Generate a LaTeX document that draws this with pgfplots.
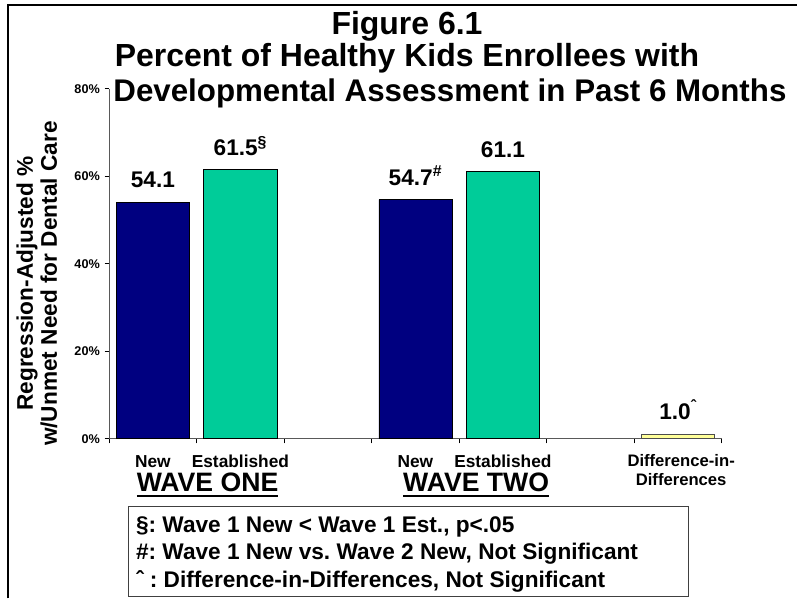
\documentclass[border=0pt]{standalone}
\usepackage{pgfplots}
\pgfplotsset{compat=1.18}
\usepackage{fontspec}
\setmainfont{Liberation Sans}
\definecolor{navybar}{RGB}{0,0,128}
\definecolor{tealbar}{RGB}{0,204,153}
\definecolor{yellowbar}{RGB}{255,255,153}
\newcommand{\fs}[1]{\fontsize{#1}{#1}\selectfont\bfseries}
\newsavebox\ulbox
\newcommand{\ulin}[1]{\sbox\ulbox{#1}\rlap{\usebox\ulbox}\rule[-4.2pt]{\wd\ulbox}{1.5pt}}
\frenchspacing
\begin{document}
\begin{tikzpicture}
% pixel frame: origin of axis at pixel (109.3,439.3), 1px = 0.75pt
\begin{scope}[shift={(-81.975pt,329.475pt)}, x=0.75pt, y=-0.75pt]
  \path (0,0) rectangle (798,599);
  \draw[line width=1.5pt] (8,599) -- (8,5) -- (798,5);
  % title
  \node[anchor=base, inner sep=0] at (407.5,35) {\fs{24}Figure 6.1};
  \node[anchor=base, inner sep=0] at (407.5,67) {\fs{24}Percent of Healthy Kids Enrollees with};
  \node[anchor=base west, inner sep=0] at (113.3,102) {\fs{23.5}Developmental Assessment in Past 6 Months};
  % y label
  \node[rotate=90, align=center, inner sep=0, font={\fontsize{17}{18}\selectfont\bfseries}] at (37,284) {Regression-Adjusted \%\\w/Unmet Need for Dental Care};
  % category labels
  \node[anchor=base, inner sep=0] at (153.1,467.7) {\fs{13}New};
  \node[anchor=base, inner sep=0] at (240.7,467.7) {\fs{13}Established};
  \node[anchor=base, inner sep=0] at (415.9,467.7) {\fs{13}New};
  \node[anchor=base, inner sep=0] at (503.5,467.7) {\fs{13}Established};
  \node[anchor=base, inner sep=0] at (682,467.3) {\fs{12.5}Difference-in-};
  \node[anchor=base, inner sep=0] at (682,486) {\fs{12.5}Differences};
  \node[anchor=base west, inner sep=0] at (136.7,491.7) {\fs{20}\ulin{WAVE ONE}};
  \node[anchor=base east, inner sep=0] at (550,491.7) {\fs{20}\ulin{WAVE TWO}};
  % note box
  \draw[black!75, line width=0.8pt] (128.3,506.7) rectangle (689.3,597.6);
  \node[anchor=base west, inner sep=0] at (136,532.7) {\fs{17}§: Wave 1 New < Wave 1 Est., p<.05};
  \node[anchor=base west, inner sep=0] at (136,560.5) {\fs{17}\#: Wave 1 New vs. Wave 2 New, Not Significant};
  \node[anchor=base west, inner sep=0] at (136,588.3) {\fs{17}ˆ : Difference-in-Differences, Not Significant};
\end{scope}
\begin{axis}[
  at={(0,0)}, anchor=south west,
  scale only axis, width=460.05pt, height=262.725pt,
  xmin=-0.5, xmax=6.5, ymin=0, ymax=80,
  axis lines*=left,
  axis line style={draw=black!65, line width=0.8pt},
  xtick={-0.5,0.5,1.5,2.5,3.5,4.5,5.5,6.5}, xticklabels={},
  ytick={0,20,40,60,80}, yticklabels={0\%,20\%,40\%,60\%,80\%},
  yticklabel style={font=\fs{9.5}},
  tick align=outside, major tick length=3.5pt,
  tick style={black, line width=0.6pt},
  ybar, bar width=55pt, bar shift=0pt,
  nodes near coords, point meta=explicit symbolic,
  every node near coord/.append style={font=\fs{17}, inner sep=0pt, anchor=base, yshift=10.8pt},
  clip=false,
]
\addplot[fill=navybar, draw=black, line width=0.5pt] coordinates {(0,54.1) [54.1] (3,54.7) [54.7\textsuperscript{\#}]};
\addplot[fill=tealbar, draw=black, line width=0.5pt] coordinates {(1,61.5) [61.5\textsuperscript{\S}] (4,61.1) [61.1]};
\addplot[fill=yellowbar, draw=black!70, line width=0.5pt] coordinates {(6,1.0) [1.0\textsuperscript{ˆ}]};
\end{axis}
\end{tikzpicture}
\end{document}
